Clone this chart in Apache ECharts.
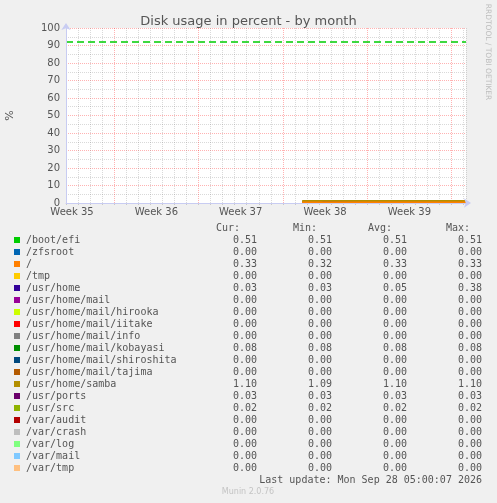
<!DOCTYPE html>
<html>
<head>
<meta charset="utf-8">
<script src="https://cdn.jsdelivr.net/npm/echarts@6/dist/echarts.min.js"></script>
<style>
  html, body { margin: 0; padding: 0; background: #f0f0f0; }
  #chart { width: 497px; height: 503px; }
</style>
</head>
<body>
<div id="chart"></div>
<script>
// ========= data =========
const names = [
    "/boot/efi", "/zfsroot", "/", "/tmp", "/usr/home", "/usr/home/mail",
    "/usr/home/mail/hirooka", "/usr/home/mail/iitake", "/usr/home/mail/info",
    "/usr/home/mail/kobayasi", "/usr/home/mail/shiroshita", "/usr/home/mail/tajima",
    "/usr/home/samba", "/usr/ports", "/usr/src", "/var/audit", "/var/crash",
    "/var/log", "/var/mail", "/var/tmp"
];
const colors = [
    "#00cc00", "#0066b3", "#ff8000", "#ffcc00", "#330099", "#990099",
    "#ccff00", "#ff0000", "#808080", "#008f00", "#00487d", "#b35a00",
    "#b38f00", "#6b006b", "#8fb300", "#b30000", "#bebebe", "#80ff80",
    "#80c9ff", "#ffc080"
];
const curValues = [0.51, 0.00, 0.33, 0.00, 0.03, 0.00, 0.00, 0.00, 0.00, 0.08, 0.00, 0.00, 1.10, 0.03, 0.02, 0.00, 0.00, 0.00, 0.00, 0.00];
const minValues = [0.51, 0.00, 0.32, 0.00, 0.03, 0.00, 0.00, 0.00, 0.00, 0.08, 0.00, 0.00, 1.09, 0.03, 0.02, 0.00, 0.00, 0.00, 0.00, 0.00];
const avgValues = [0.51, 0.00, 0.33, 0.00, 0.05, 0.00, 0.00, 0.00, 0.00, 0.08, 0.00, 0.00, 1.10, 0.03, 0.02, 0.00, 0.00, 0.00, 0.00, 0.00];
const maxValues = [0.51, 0.00, 0.33, 0.00, 0.38, 0.00, 0.00, 0.00, 0.00, 0.08, 0.00, 0.00, 1.10, 0.03, 0.02, 0.00, 0.00, 0.00, 0.00, 0.00];

// sample times (days from the left edge of the month graph)
const sampleDays = [19.6, 20.75, 20.8, 21.35, 21.4, 33.2];
// /usr/home had a short spike, the others stay flat
const usrHomeHistory = [0.03, 0.03, 0.38, 0.38, 0.03, 0.03];

const warningLevel = 92;
const weekLabels = ["Week 35", "Week 36", "Week 37", "Week 38", "Week 39"];
const weekLabelDays = [0.5, 7.5, 14.5, 21.5, 28.5];
const headers = ["Cur:", "Min:", "Avg:", "Max:"];
const lastUpdate = "Last update: Mon Sep 28 05:00:07 2026";

// ========= style =========
const MONO = "DejaVu Sans Mono";
const SANS = "DejaVu Sans";
const TXT = "#555555";
const RED = "rgba(255,0,0,0.3)";
const GRAY = "rgba(120,120,120,0.28)";
const AXIS = "#c8ccf2";
const DAYS = 33.2;

// ========= series =========
const series = names.map((n, i) => {
    const isHome = n === "/usr/home";
    return {
        name: n,
        type: "line",
        xAxisIndex: 0,
        symbol: "none",
        animation: false,
        z: n === "/" ? 4 : (isHome ? 3 : 2),
        lineStyle: {color: colors[i], width: isHome ? 1 : 2},
        data: sampleDays.map((d, k) => [d, isHome ? usrHomeHistory[k] : avgValues[i]])
    };
});

series.push({
    name: "warning",
    type: "line",
    xAxisIndex: 0,
    symbol: "none",
    animation: false,
    z: 3,
    lineStyle: {color: "#00cc00", width: 1.5, type: [7, 4]},
    data: [[0, warningLevel], [DAYS, warningLevel]]
});

// ========= legend table =========
const graphic = [];
const colRight = [257, 332, 407, 482];
const headRight = [240, 317, 392, 470];
headers.forEach((h, j) => {
    graphic.push({type: "text", x: headRight[j], y: 228,
        style: {text: h, font: "10px " + MONO, fill: TXT, align: "right", verticalAlign: "middle"}});
});
names.forEach((n, i) => {
    const y = 240 + i * 12;
    graphic.push({type: "rect", shape: {x: 14, y: y - 3, width: 6, height: 6}, style: {fill: colors[i]}});
    graphic.push({type: "text", x: 26, y: y,
        style: {text: n, font: "10px " + MONO, fill: TXT, align: "left", verticalAlign: "middle"}});
    [curValues, minValues, avgValues, maxValues].forEach((arr, j) => {
        graphic.push({type: "text", x: colRight[j], y: y,
            style: {text: arr[i].toFixed(2), font: "10px " + MONO, fill: TXT, align: "right", verticalAlign: "middle"}});
    });
});
graphic.push({type: "text", x: 482, y: 480,
    style: {text: lastUpdate, font: "10px " + MONO, fill: TXT, align: "right", verticalAlign: "middle"}});
graphic.push({type: "text", x: 248, y: 492,
    style: {text: "Munin 2.0.76", font: "8px " + SANS, fill: "#c4c4c4", align: "center", verticalAlign: "middle"}});
graphic.push({type: "text", x: 488, y: 52, rotation: -Math.PI / 2,
    style: {text: "RRDTOOL / TOBI OETIKER", font: "7.5px " + SANS, fill: "#bdbdbd", align: "center", verticalAlign: "middle"}});

// ========= chart =========
const chart = echarts.init(document.getElementById("chart"));
chart.setOption({
    backgroundColor: "#f0f0f0",
    animation: false,
    title: {
        text: "Disk usage in percent - by month",
        left: "center", top: 10,
        textStyle: {fontFamily: SANS, fontSize: 13, fontWeight: "normal", color: TXT}
    },
    grid: {left: 66, right: 31, top: 28, bottom: 300, show: true, backgroundColor: "#ffffff",
        borderWidth: 0, containLabel: false, outerBoundsMode: "none"},
    xAxis: [
        { // daily grid, week grid in red
            type: "value", position: "bottom", min: 0, max: DAYS, interval: 1,
            axisLine: {show: false},
            axisLabel: {show: false},
            axisTick: {show: true, length: 2, lineStyle: {color: "#c8c8c8"}},
            splitLine: {show: true, lineStyle: {type: "dotted", width: 1,
                color: [GRAY, GRAY, GRAY, GRAY, RED, GRAY, GRAY]}}
        },
        { // week labels, half-day steps
            type: "value", position: "bottom", offset: 0, min: 0, max: DAYS * 2, interval: 1,
            axisLine: {show: false}, axisTick: {show: false}, splitLine: {show: false},
            axisLabel: {
                show: true, margin: 4, color: TXT, fontFamily: SANS, fontSize: 10,
                showMinLabel: true, showMaxLabel: false,
                formatter: v => {
                    const k = weekLabelDays.indexOf(v / 2);
                    return k >= 0 ? weekLabels[k] : "";
                }
            }
        },
        { // axis line on top
            type: "value", position: "bottom", offset: 0, min: 0, max: DAYS, z: 5,
            axisLabel: {show: false}, axisTick: {show: false}, splitLine: {show: false},
            axisLine: {show: true, onZero: false, lineStyle: {color: AXIS, width: 1},
                symbol: ["none", "arrow"], symbolSize: [7, 7], symbolOffset: [0, 5]}
        }
    ],
    yAxis: [
        {
            type: "value", position: "left", min: 0, max: 100, interval: 5,
            name: "%", nameLocation: "middle", nameGap: 50, nameRotate: 90,
            nameTextStyle: {color: TXT, fontFamily: SANS, fontSize: 11},
            axisLine: {show: false},
            axisTick: {show: false},
            axisLabel: {
                color: TXT, fontFamily: SANS, fontSize: 10, margin: 6,
                formatter: v => (v % 10 === 0 ? String(v) : "")
            },
            splitLine: {show: true, lineStyle: {type: "dotted", width: 1, color: [RED, GRAY]}}
        },
        {
            type: "value", position: "left", offset: 0, min: 0, max: 100, z: 5,
            axisLabel: {show: false}, axisTick: {show: false}, splitLine: {show: false},
            axisLine: {show: true, onZero: false, lineStyle: {color: AXIS, width: 1},
                symbol: ["none", "arrow"], symbolSize: [7, 7], symbolOffset: [0, 5]}
        }
    ],
    series: series,
    graphic: graphic
});
</script>
</body>
</html>
